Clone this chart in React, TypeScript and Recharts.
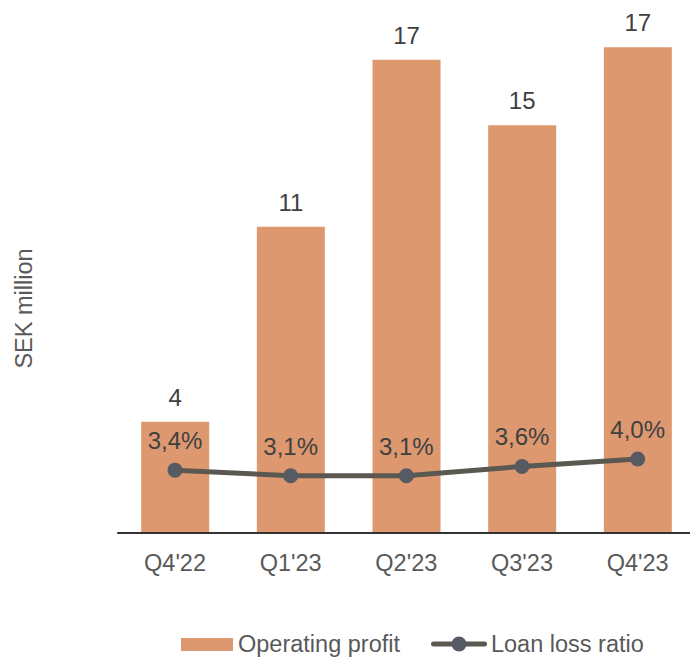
import { ComposedChart, Bar, Line, XAxis, YAxis, Legend, LabelList } from 'recharts'

const quarters = ["Q4'22", "Q1'23", "Q2'23", "Q3'23", "Q4'23"]
const operatingProfit = [4.0, 11.0, 17.0, 14.65, 17.45]
const loanLossRatio = [3.4, 3.1, 3.1, 3.6, 4.0]

const FONT = '"Liberation Sans", Arial, sans-serif'
const BAR_COLOR = '#DD9870'
const LINE_COLOR = '#5a5850'
const DOT_COLOR = '#565a62'
const TEXT_COLOR = '#595959'
const LABEL_COLOR = '#404040'

const data = quarters.map((q, i) => ({
  quarter: q,
  profit: operatingProfit[i],
  ratio: loanLossRatio[i],
}))

const formatRatio = (v: any) => Number(v).toFixed(1).replace('.', ',') + '%'

const LegendContent = (props: any) => {
  // bar entry first, then the line
  const payload = [...(props.payload || [])].sort((a: any, b: any) =>
    a.type === 'rect' ? -1 : b.type === 'rect' ? 1 : 0
  )
  return (
    <div
      style={{
        display: 'flex',
        alignItems: 'center',
        height: 26,
        paddingLeft: 181,
        fontFamily: FONT,
        fontSize: 23.5,
        color: TEXT_COLOR,
        whiteSpace: 'nowrap',
      }}
    >
      {payload.map((entry: any) =>
        entry.type === 'rect' ? (
          <div key={entry.value} style={{ display: 'flex', alignItems: 'center', marginRight: 31 }}>
            <div style={{ width: 52, height: 13, background: BAR_COLOR, marginRight: 5 }} />
            <span>{entry.value}</span>
          </div>
        ) : (
          <div key={entry.value} style={{ display: 'flex', alignItems: 'center' }}>
            <svg width={56} height={16} style={{ marginRight: 4 }}>
              <line x1={2.5} y1={8} x2={53.5} y2={8} stroke={LINE_COLOR} strokeWidth={5} strokeLinecap="round" />
              <circle cx={28} cy={8} r={7.5} fill={DOT_COLOR} />
            </svg>
            <span>{entry.value}</span>
          </div>
        )
      )}
    </div>
  )
}

const YLabel = (props: any) => {
  const vb = props.viewBox || { x: 0, y: 0, height: 0 }
  const x = vb.x + 24
  const y = vb.y + vb.height / 2 + 26
  return (
    <text
      x={x}
      y={y}
      transform={`rotate(-90 ${x} ${y})`}
      textAnchor="middle"
      dominantBaseline="central"
      fontFamily={FONT}
      fontSize={23.5}
      fill={TEXT_COLOR}
    >
      SEK million
    </text>
  )
}

export default function App() {
  return (
    <div style={{ position: 'absolute', left: 0, top: 0, width: 690, height: 657, overflow: 'hidden', background: '#fff' }}>
      <ComposedChart
        width={700}
        height={657}
        data={data}
        margin={{ top: 32, right: 4.5, bottom: 0, left: 0.2 }}
      >
        <XAxis
          dataKey="quarter"
          interval={0}
          height={98}
          tickLine={false}
          tickSize={0}
          tickMargin={21}
          axisLine={{ stroke: '#333333', strokeWidth: 2 }}
          tick={{ fill: TEXT_COLOR, fontSize: 23.5, fontFamily: FONT }}
        />
        <YAxis
          yAxisId="left"
          width={117}
          domain={[0, 18]}
          tick={false}
          tickLine={false}
          axisLine={false}
          label={{ content: <YLabel /> }}
        />
        <YAxis yAxisId="right" orientation="right" hide domain={[0, 27.1]} />
        <Legend verticalAlign="bottom" wrapperStyle={{ left: 0, width: 690 }} content={<LegendContent />} />
        <Bar
          yAxisId="left"
          dataKey="profit"
          name="Operating profit"
          fill={BAR_COLOR}
          barSize={68}
          isAnimationActive={false}
        >
          <LabelList
            dataKey="profit"
            position="top"
            offset={16}
            formatter={(v: any) => Math.round(Number(v))}
            style={{ fill: LABEL_COLOR, fontSize: 24, fontFamily: FONT }}
          />
        </Bar>
        <Line
          yAxisId="right"
          type="linear"
          dataKey="ratio"
          name="Loan loss ratio"
          stroke={LINE_COLOR}
          strokeWidth={5}
          dot={{ r: 7.5, fill: DOT_COLOR, stroke: 'none' }}
          activeDot={false}
          legendType="line"
          isAnimationActive={false}
        >
          <LabelList
            dataKey="ratio"
            position="top"
            offset={21}
            formatter={formatRatio}
            style={{ fill: LABEL_COLOR, fontSize: 24, fontFamily: FONT }}
          />
        </Line>
      </ComposedChart>
    </div>
  )
}
